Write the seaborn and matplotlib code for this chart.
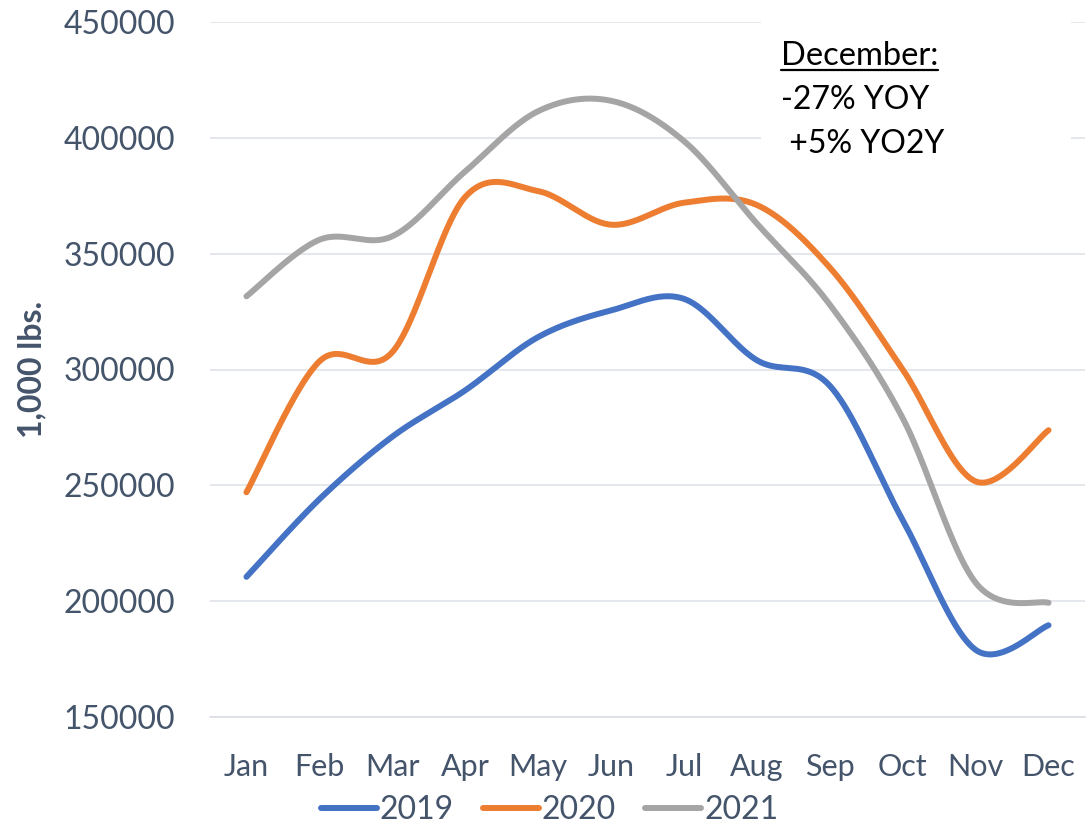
import numpy as np
import pandas as pd
import matplotlib
matplotlib.use('Agg')
import matplotlib.pyplot as plt
import seaborn as sns
from matplotlib.lines import Line2D
from matplotlib.patches import Rectangle

months = ['Jan', 'Feb', 'Mar', 'Apr', 'May', 'Jun',
          'Jul', 'Aug', 'Sep', 'Oct', 'Nov', 'Dec']
years = ['2019', '2020', '2021']
vals_2019 = [210500, 244000, 271000, 291000, 314000, 325500,
             330500, 304000, 293000, 235000, 179000, 189600]
vals_2020 = [247000, 303500, 307500, 374500, 377000, 362500,
             372000, 371000, 344000, 300000, 251700, 273800]
vals_2021 = [331600, 356000, 357500, 385500, 411500, 416000,
             398600, 363000, 328000, 279000, 208000, 199300]
colors = ['#4472C4', '#ED7D31', '#A5A5A5']
txt_color = '#44546A'


def smooth(y, steps=40):
    # Excel style "smoothed line": cubic bezier through every point
    y = np.asarray(y, float)
    x = np.arange(len(y), dtype=float)
    n = len(y)
    xs, ys = [], []
    for i in range(n - 1):
        xm, ym = (x[i - 1], y[i - 1]) if i > 0 else (x[i], y[i])
        xp, yp = (x[i + 2], y[i + 2]) if i + 2 < n else (x[i + 1], y[i + 1])
        x1 = x[i] + (x[i + 1] - xm) / 6
        y1 = y[i] + (y[i + 1] - ym) / 6
        x2 = x[i + 1] - (xp - x[i]) / 6
        y2 = y[i + 1] - (yp - y[i]) / 6
        t = np.linspace(0, 1, steps, endpoint=(i == n - 2))
        a, b, c, d = (1 - t) ** 3, 3 * (1 - t) ** 2 * t, 3 * (1 - t) * t ** 2, t ** 3
        xs.append(a * x[i] + b * x1 + c * x2 + d * x[i + 1])
        ys.append(a * y[i] + b * y1 + c * y2 + d * y[i + 1])
    return np.concatenate(xs), np.concatenate(ys)


frames = []
for yr, vals in zip(years, [vals_2019, vals_2020, vals_2021]):
    sx, sy = smooth(vals)
    frames.append(pd.DataFrame({'x': sx, 'value': sy, 'year': yr}))
df = pd.concat(frames, ignore_index=True)

sns.set_style('white')
plt.rcParams['font.family'] = ['Lato', 'DejaVu Sans']

fig = plt.figure(figsize=(10.86, 8.26), dpi=100)
ax = fig.add_axes([210 / 1086, 1 - 717 / 826, 875 / 1086, 695 / 826])

sns.lineplot(data=df, x='x', y='value', hue='year', palette=colors,
             estimator=None, sort=False, linewidth=4.3, ax=ax, legend=False)
for ln in ax.lines:
    ln.set_solid_capstyle('round')
    ln.set_zorder(3)

ax.set_xlim(-0.5, 11.5)
ax.set_ylim(150000, 450000)
ax.set_yticks(np.arange(150000, 450001, 50000))
ax.set_yticklabels([str(v) for v in range(150000, 450001, 50000)])
ax.set_xticks(range(12))
ax.set_xticklabels(months)
ax.set_xticks(np.arange(-0.5, 12, 1), minor=True)
ax.set_xlabel('')
ax.set_ylabel('1,000 lbs.', fontsize=23, fontweight='bold', color=txt_color)
ax.yaxis.set_label_coords(-0.187, 0.5)

ax.grid(axis='y', color='#DDE1E8', linewidth=1.1)
ax.set_axisbelow(True)
for s in ['left', 'right', 'top']:
    ax.spines[s].set_visible(False)
ax.spines['bottom'].set_color('#D9DDE3')
ax.spines['bottom'].set_linewidth(1.1)

ax.tick_params(axis='y', length=0, pad=25, labelsize=23, labelcolor=txt_color)
ax.tick_params(axis='x', which='major', length=0, pad=26, labelsize=22,
               labelcolor=txt_color)
ax.tick_params(axis='x', which='minor', length=8, width=1.1, color='#D9DDE3',
               direction='out')

# white box behind the note
ax.add_patch(Rectangle((761 / 1086, 1 - 178 / 826), 310 / 1086, 168 / 826,
                       transform=fig.transFigure, facecolor='white',
                       edgecolor='none', zorder=1, clip_on=False))

note = fig.text(781 / 1086, 1 - 65 / 826, 'December:', fontsize=23.5,
                color='black', va='baseline', ha='left')
fig.text(781 / 1086, 1 - 109 / 826, '-27% YOY', fontsize=23,
         color='black', va='baseline', ha='left')
fig.text(781 / 1086, 1 - 153 / 826, ' +5% YO2Y', fontsize=23,
         color='black', va='baseline', ha='left')

fig.canvas.draw()
bb = note.get_window_extent().transformed(fig.transFigure.inverted())
fig.add_artist(Line2D([bb.x0, bb.x1], [1 - 70 / 826] * 2,
                      transform=fig.transFigure, color='black', linewidth=1.6))

handles = [Line2D([0], [0], color=c, linewidth=4.3, solid_capstyle='round')
           for c in colors]
fig.legend(handles, years, loc='center', bbox_to_anchor=(0.506, 1 - 810 / 826),
           ncol=3, frameon=False, fontsize=23, handlelength=1.75,
           handletextpad=0.1, columnspacing=0.9, labelcolor=txt_color,
           borderaxespad=0, borderpad=0)

fig.savefig('out.png', dpi=100)
